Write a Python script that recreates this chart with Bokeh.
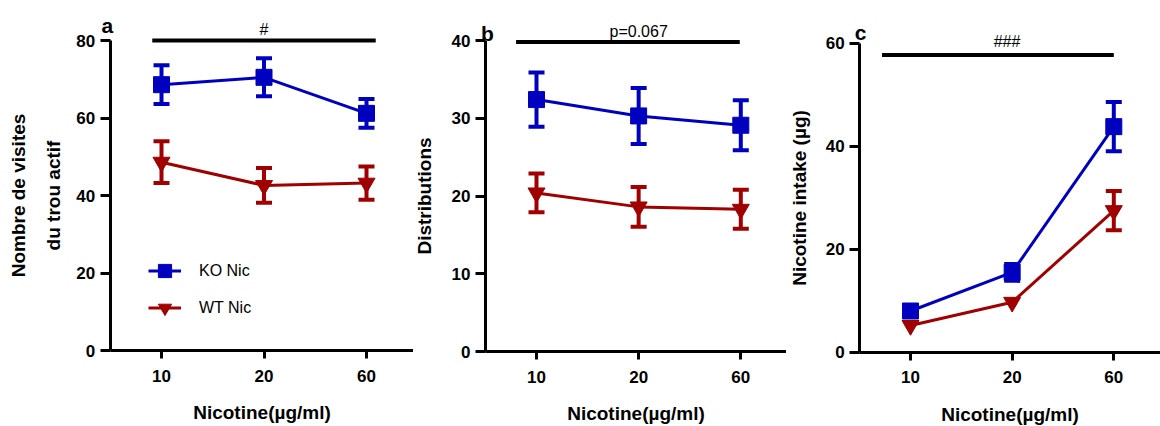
from bokeh.plotting import figure
from bokeh.layouts import row
from bokeh.models import Range1d, FixedTicker, Label, Arrow, Legend, LegendItem
from bokeh.embed import file_html
from bokeh.resources import INLINE

# ---- data ----
doses = ["10", "20", "60"]

a_ko = [68.6, 70.5, 61.2]
a_ko_sem = [5.0, 4.9, 3.7]
a_wt = [48.6, 42.6, 43.2]
a_wt_sem = [5.4, 4.5, 4.3]

b_ko = [32.4, 30.3, 29.1]
b_ko_sem = [3.5, 3.6, 3.2]
b_wt = [20.4, 18.6, 18.3]
b_wt_sem = [2.5, 2.55, 2.5]

c_ko = [8.0, 15.5, 43.8]
c_ko_sem = [0.8, 1.65, 4.8]
c_wt = [5.2, 9.7, 27.5]
c_wt_sem = [0.0, 0.0, 3.8]

BLUE = "#0000BF"
RED = "#A00000"
FONT = "Liberation Sans"
H = 426


def series(p, mean, sem, color, marker, msize):
    xs = list(range(len(mean)))
    line = p.line(xs, mean, line_color=color, line_width=3)
    ex = [x for x, s in zip(xs, sem) if s > 0]
    lo = [m - s for m, s in zip(mean, sem) if s > 0]
    hi = [m + s for m, s in zip(mean, sem) if s > 0]
    if ex:
        p.segment(x0=ex, y0=lo, x1=ex, y1=hi, line_color=color, line_width=4)
        p.scatter(ex, lo, marker="dash", size=16, line_color=color, line_width=4)
        p.scatter(ex, hi, marker="dash", size=16, line_color=color, line_width=4)
    sc = p.scatter(xs, mean, marker=marker, size=msize, fill_color=color,
                   line_color=color, line_width=1)
    return line, sc


def panel(width, fig_x0, px_first, ux, py0, ymax, ymax_px, yticks, ylabel,
          ylabel_standoff):
    # frame covers the whole figure; axes are placed at fixed data locations
    uy = (py0 - ymax_px) / ymax
    x_start = -(px_first - fig_x0) / ux
    x_end = (fig_x0 + width - px_first) / ux
    y_start = -(H - py0) / uy
    y_end = py0 / uy
    p = figure(width=width, height=H, output_backend="svg", toolbar_location=None,
               x_range=Range1d(x_start, x_end), y_range=Range1d(y_start, y_end),
               min_border=0, min_border_left=0, min_border_right=0,
               min_border_top=0, min_border_bottom=0)
    p.outline_line_color = None
    p.grid.visible = False
    p.background_fill_color = "white"
    p.border_fill_color = "white"
    for ax in (p.xaxis[0], p.yaxis[0]):
        ax.axis_line_width = 3
        ax.axis_line_color = "black"
        ax.major_tick_line_width = 3
        ax.major_tick_line_color = "black"
        ax.minor_tick_line_color = None
        ax.major_tick_in = 0
        ax.major_label_text_font = FONT
        ax.major_label_text_font_style = "bold"
        ax.major_label_text_font_size = "17px"
        ax.major_label_text_color = "black"
        ax.axis_label_text_font = FONT
        ax.axis_label_text_font_style = "bold"
        ax.axis_label_text_font_size = "19px"
        ax.axis_label_text_color = "black"
    xa = p.xaxis[0]
    xa.fixed_location = 0
    xa.bounds = (-0.5, x_end)
    xa.ticker = FixedTicker(ticks=list(range(len(doses))))
    xa.major_label_overrides = {i: d for i, d in enumerate(doses)}
    xa.major_tick_out = 8
    xa.major_label_standoff = 11
    xa.axis_label = "Nicotine(µg/ml)"
    xa.axis_label_standoff = 17
    ya = p.yaxis[0]
    ya.fixed_location = -0.5
    ya.bounds = (0, ymax)
    ya.ticker = FixedTicker(ticks=yticks)
    ya.major_tick_out = 10
    ya.major_label_standoff = 5
    ya.axis_label = ylabel
    ya.axis_label_standoff = ylabel_standoff
    ya.axis_label_text_line_height = 1.65
    return p


def sig(p, x0, x1, y, text, tx, ty_off):
    p.add_layout(Arrow(start=None, end=None, x_start=x0, y_start=y, x_end=x1, y_end=y,
                       line_width=4, line_color="black"))
    p.add_layout(Label(x=tx, y=y, y_offset=ty_off, text=text, text_align="center",
                       text_baseline="middle", text_font=FONT, text_font_size="16px",
                       text_color="black"))


def letter(p, ytop, txt, xoff, yoff):
    p.add_layout(Label(x=-0.5, y=ytop, x_offset=xoff, y_offset=yoff, text=txt,
                       text_align="center", text_baseline="alphabetic",
                       text_font=FONT, text_font_style="bold", text_font_size="21px",
                       text_color="black"))


# ---- panel a ----
pa = panel(413, 0, 161, 102.5, 350, 80, 40, [0, 20, 40, 60, 80],
           "Nombre de visites\ndu trou actif", 10)
ko_l, ko_s = series(pa, a_ko, a_ko_sem, BLUE, "square", 16)
wt_l, wt_s = series(pa, a_wt, a_wt_sem, RED, "inverted_triangle", 17)
sig(pa, -0.09, 2.09, 80, "#", 1.0, 11)
letter(pa, 80, "a", -3, 15)
leg = Legend(items=[LegendItem(label="KO Nic", renderers=[ko_l, ko_s]),
                    LegendItem(label="WT Nic", renderers=[wt_l, wt_s])],
             location=(148, 102), glyph_width=33, glyph_height=33, spacing=4,
             padding=0, margin=0, label_standoff=18,
             label_text_font=FONT, label_text_font_size="16px",
             label_text_color="black",
             border_line_color=None, background_fill_alpha=0)
pa.add_layout(leg)

# ---- panel b ----
pb = panel(373, 413, 536, 102.15, 351, 40, 40, [0, 10, 20, 30, 40],
           "Distributions", 14)
series(pb, b_ko, b_ko_sem, BLUE, "square", 16)
series(pb, b_wt, b_wt_sem, RED, "inverted_triangle", 17)
sig(pb, -0.2, 1.99, 39.8, "p=0.067", 1.0, 11)
letter(pb, 40, "b", 2, 7)

# ---- panel c ----
pc = panel(374, 786, 910, 101.65, 351.7, 60, 42.7, [0, 20, 40, 60],
           "Nicotine intake (µg)", 13)
series(pc, c_ko, c_ko_sem, BLUE, "square", 16)
series(pc, c_wt, c_wt_sem, RED, "inverted_triangle", 17)
sig(pc, -0.28, 2.0, 57.7, "###", 0.95, 14)
letter(pc, 60, "c", 1, 11)

layout = row(pa, pb, pc, spacing=0)
open("out.html", "w").write(file_html(layout, INLINE))
